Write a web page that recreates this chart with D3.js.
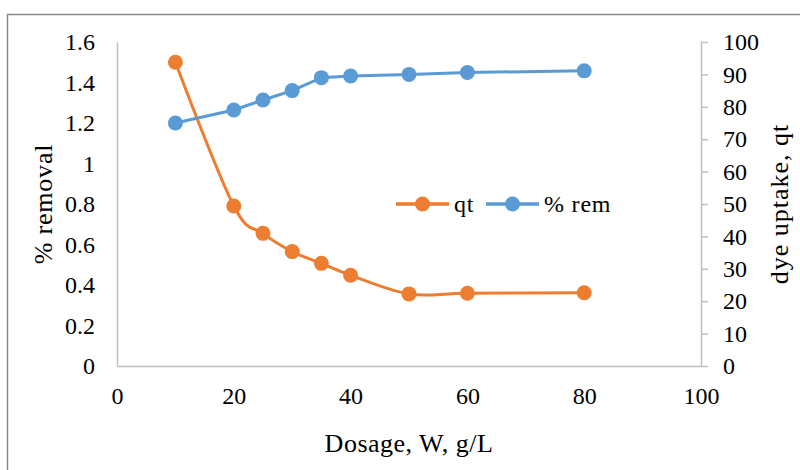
<!DOCTYPE html>
<html>
<head>
<meta charset="utf-8">
<script src="https://cdn.jsdelivr.net/npm/d3@7"></script>
<style>
  body { margin: 0; background: #fff; }
  svg text { font-family: "Liberation Serif", serif; fill: #000; }
</style>
</head>
<body>
<script>
const dosage = [10, 20, 25, 30, 35, 40, 50, 60, 80];
const qt = [1.5, 0.79, 0.655, 0.565, 0.507, 0.448, 0.356, 0.359, 0.362];
const rem = [75, 79, 82.1, 85, 89, 89.5, 90, 90.6, 91.1];
const xTicks = [0, 20, 40, 60, 80, 100];
const leftTicks = [0, 0.2, 0.4, 0.6, 0.8, 1, 1.2, 1.4, 1.6];
const rightTicks = [0, 10, 20, 30, 40, 50, 60, 70, 80, 90, 100];
const seriesNames = ["qt", "% rem"];

const orange = "#ED7D31";
const blue = "#5B9BD5";
const axisGray = "#BFBFBF";

const width = 800;
const height = 470;
const plot = { left: 117, right: 701, top: 42, bottom: 366 };

const svg = d3
  .select("body")
  .append("svg")
  .attr("width", width)
  .attr("height", height);

// outer chart frame (runs off the right and bottom edge)
svg
  .append("rect")
  .attr("x", 7.5)
  .attr("y", 14.5)
  .attr("width", width)
  .attr("height", height)
  .attr("fill", "none")
  .attr("stroke", "#8a8a8a")
  .attr("stroke-width", 1.5);

const xscale = d3.scaleLinear().domain([0, 100]).range([plot.left, plot.right]);
const yleft = d3.scaleLinear().domain([0, 1.6]).range([plot.bottom, plot.top]);
const yright = d3.scaleLinear().domain([0, 100]).range([plot.bottom, plot.top]);

const xaxis = d3
  .axisBottom(xscale)
  .tickValues(xTicks)
  .tickSize(0)
  .tickPadding(21)
  .tickFormat((d) => String(d));
const leftAxis = d3
  .axisLeft(yleft)
  .tickValues(leftTicks)
  .tickSize(0)
  .tickPadding(22)
  .tickFormat((d) => String(d));
const rightAxis = d3
  .axisRight(yright)
  .tickValues(rightTicks)
  .tickSizeInner(7)
  .tickSizeOuter(0)
  .tickPadding(15)
  .tickFormat((d) => String(d));

const styleAxis = (g) => {
  g.attr("font-family", "Liberation Serif, serif").attr("font-size", 24);
  g.selectAll("path, line").attr("stroke", axisGray).attr("stroke-width", 1.5);
  g.selectAll("text").attr("fill", "#000");
};

svg.append("g").attr("transform", `translate(0,${plot.bottom})`).call(xaxis).call(styleAxis);
svg.append("g").attr("transform", `translate(${plot.left},0)`).call(leftAxis).call(styleAxis);
svg.append("g").attr("transform", `translate(${plot.right},0)`).call(rightAxis).call(styleAxis);

// axis titles
svg
  .append("text")
  .attr("x", (plot.left + plot.right) / 2)
  .attr("y", 452)
  .attr("text-anchor", "middle")
  .attr("font-size", 26)
  .attr("letter-spacing", 0.5)
  .text("Dosage, W, g/L");

svg
  .append("text")
  .attr("transform", `translate(52,${(plot.top + plot.bottom) / 2}) rotate(-90)`)
  .attr("text-anchor", "middle")
  .attr("font-size", 26)
  .attr("letter-spacing", 0.8)
  .text("% removal");

svg
  .append("text")
  .attr("transform", `translate(788,${(plot.top + plot.bottom) / 2}) rotate(-90)`)
  .attr("text-anchor", "middle")
  .attr("font-size", 26)
  .attr("letter-spacing", 1)
  .text("dye uptake, qt");

// qt series, smoothed, on left scale
const qtData = dosage.map((d, i) => ({ x: d, y: qt[i] }));
const remData = dosage.map((d, i) => ({ x: d, y: rem[i] }));

const qtLine = d3
  .line()
  .x((d) => xscale(d.x))
  .y((d) => yleft(d.y))
  .curve(d3.curveCatmullRom.alpha(0));

const remLine = d3
  .line()
  .x((d) => xscale(d.x))
  .y((d) => yright(d.y));

const qtG = svg.append("g");
qtG
  .append("path")
  .datum(qtData)
  .attr("d", qtLine)
  .attr("fill", "none")
  .attr("stroke", orange)
  .attr("stroke-width", 3);
qtG
  .selectAll("circle")
  .data(qtData)
  .join("circle")
  .attr("cx", (d) => xscale(d.x))
  .attr("cy", (d) => yleft(d.y))
  .attr("r", 7.5)
  .attr("fill", orange);

const remG = svg.append("g");
remG
  .append("path")
  .datum(remData)
  .attr("d", remLine)
  .attr("fill", "none")
  .attr("stroke", blue)
  .attr("stroke-width", 3);
remG
  .selectAll("circle")
  .data(remData)
  .join("circle")
  .attr("cx", (d) => xscale(d.x))
  .attr("cy", (d) => yright(d.y))
  .attr("r", 7.5)
  .attr("fill", blue);

// legend
const legendItems = [
  { name: seriesNames[0], color: orange, x: 396 },
  { name: seriesNames[1], color: blue, x: 486 },
];
const legend = svg.append("g").attr("transform", "translate(0,204)");
const items = legend
  .selectAll("g")
  .data(legendItems)
  .join("g")
  .attr("transform", (d) => `translate(${d.x},0)`);
items
  .append("line")
  .attr("x1", 0)
  .attr("x2", 53)
  .attr("stroke", (d) => d.color)
  .attr("stroke-width", 3.5);
items
  .append("circle")
  .attr("cx", 26.5)
  .attr("r", 7.5)
  .attr("fill", (d) => d.color);
items
  .append("text")
  .attr("x", 58)
  .attr("dy", "0.32em")
  .attr("font-size", 24)
  .attr("letter-spacing", 0.8)
  .text((d) => d.name);
</script>
</body>
</html>
